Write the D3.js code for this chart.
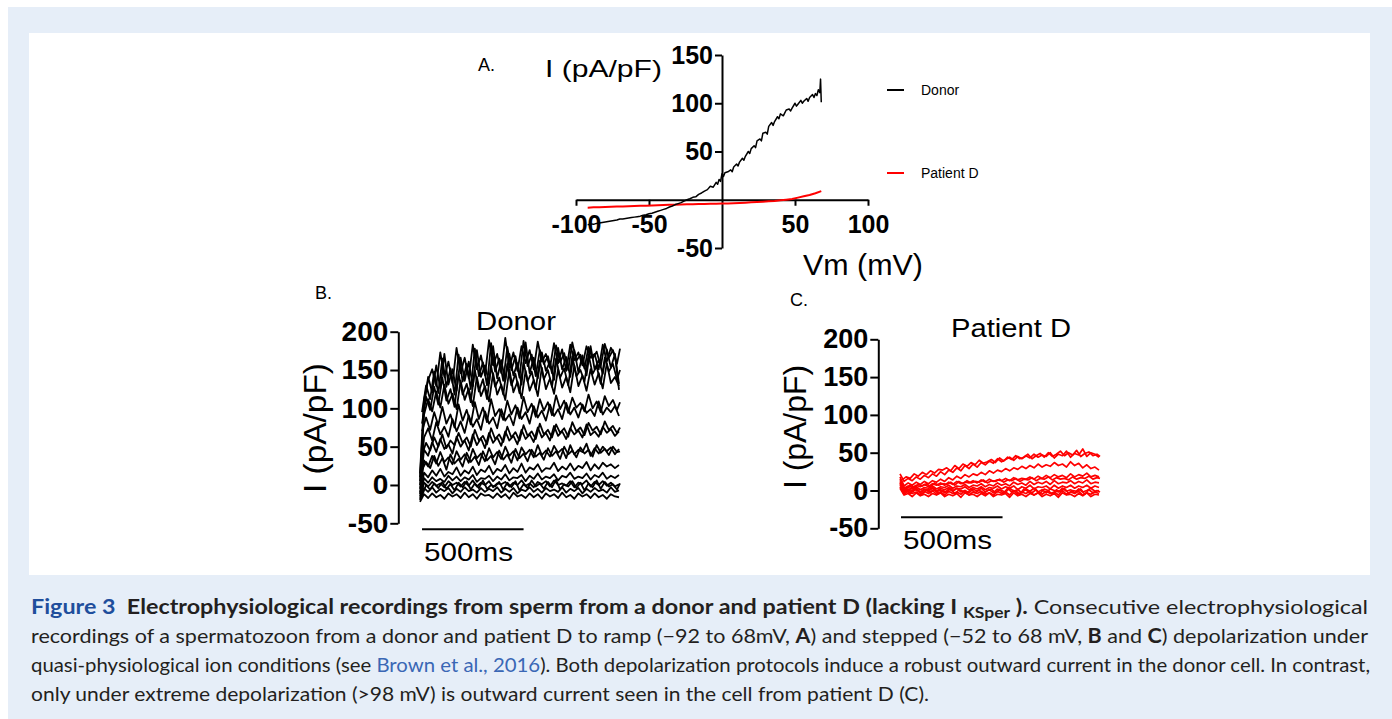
<!DOCTYPE html>
<html><head>
<meta charset="UTF-8">
<title>Figure 3 - ramp and step recordings</title>
<script src="https://d3js.org/d3.v7.min.js"></script>
<style>
  body { margin: 0; background: #fff; }
  svg text { font-family: "Liberation Sans", Arial, sans-serif; fill: #000; }
  .axis path, .axis line { stroke: #000; stroke-width: 2px; }
  .axis text { font-weight: bold; fill: #000; }
  .trace { fill: none; stroke-linejoin: round; }
  .caption text { font-family: Lato, "Open Sans", sans-serif; font-size: 20px; fill: #231f20; white-space: pre; }
</style>
</head>
<body>
<script type="text/javascript">

// ---- data ----

// panel A: ramp, [Vm (mV), I (pA/pF)]
var rampDonor = [
  [-92,-26],[-90,-25],[-88,-25.5],[-86,-24.5],[-84,-24],[-82,-23.5],[-80,-23],[-78,-22.5],[-76,-22],[-74,-21.5],
  [-72,-21],[-70,-20],[-68,-20],[-66,-19.5],[-64,-19],[-62,-18.5],[-60,-18],[-58,-17.5],[-56,-17],[-54,-16],
  [-52,-15.5],[-50,-14.5],[-48,-14],[-46,-13],[-44,-12],[-42,-11],[-40,-10],[-38,-9],[-36,-7.5],[-34,-6.5],
  [-32,-5],[-30,-4],[-28,-3],[-26,-1.5],[-24,0],[-22,1],[-20,2.5],[-18,3],[-16,5.5],[-14,7],
  [-12,9],[-10,10.5],[-8,14],[-6,13],[-4,18],[-3,16],[-2,21],[-1,19],[0,27],[1,24],[2,28],[4,29],[6,31],[7,29],[8,34],
  [10,37],[11,35],[12,39],[14,43],[15,41],[16,45],[18,50],[19,48],[20,53],[22,56],[23,54],[24,61],[26,63],[27,61],
  [28,69],[30,70],[31,68],[32,76],[34,80],[35,77],[36,81],[38,86],[39,84],[40,89],[42,87],[43,90],[44,93],
  [46,94],[47,92],[48,95],[50,100],[51,97],[52,99],[54,103],[55,100],[56,102],[58,105],[59,102],[60,106],
  [62,109],[63,106],[64,110],[65,108],[66,114],[67,111],[67.5,125],[68,101]
];
var rampPatient = [
  [-92,-8.2],[-88,-7.9],[-84,-7.7],[-80,-7.5],[-76,-7.3],[-72,-7.1],[-68,-6.9],[-64,-6.7],[-60,-6.5],[-56,-6.3],
  [-52,-6.1],[-48,-5.9],[-44,-5.7],[-40,-5.5],[-36,-5.3],[-32,-5.1],[-28,-4.9],[-24,-4.7],[-20,-4.6],[-16,-4.5],
  [-12,-4.3],[-8,-4.2],[-4,-4.1],[0,-4],[4,-3.8],[8,-3.6],[12,-3.3],[16,-3],[20,-2.7],[24,-2.4],
  [28,-2],[32,-1.6],[36,-1.2],[40,-0.6],[44,0.1],[48,0.8],[52,2.2],[56,3.6],[60,5],[64,6.8],[68,8.9]
];
var rampXTicks = [-100, -50, 50, 100];
var rampYTicks = [150, 100, 50, -50];

// panels B and C: step protocol, sample times (ms); the second set is sampled in between
var stepTimes = [0,20,40,60,80,100,120,140,160,180,200,220,240,260,280,300,320,340,360,380,
                 400,420,440,460,480,500,520,540,560,580,600,620,640,660,680,700,720,740,760,780,
                 800,820,840,860,880,900,920,940,960,980];
var stepTimesAlt = [10,30,50,70,90,110,130,150,170,190,210,230,250,270,290,310,330,350,370,390,
                    410,430,450,470,490,510,530,550,570,590,610,630,650,670,690,710,730,750,770,790,
                    810,830,850,870,890,910,930,950,970,985];
var stepYTicks = [200, 150, 100, 50, 0, -50];

// donor step traces (pA/pF), on stepTimes
var donorSteps = [
  [-22,-12,-17,-11,-16,-13,-18,-11,-15,-12, -17,-10,-16,-12,-18,-11,-14,-13,-17,-11, -16,-12,-18,-10,-15,-13,-17,-11,-16,-12, -18,-11,-15,-12,-17,-10,-16,-13,-18,-11, -15,-12,-17,-11,-16,-13,-18,-12,-15,-16],
  [-20,-4,-9,-3,-10,-5,-8,-4,-11,-5, -9,-3,-8,-6,-10,-4,-9,-5,-8,-3, -10,-5,-9,-4,-11,-6,-8,-3,-9,-5, -10,-4,-8,-6,-9,-3,-10,-5,-8,-4, -11,-5,-9,-4,-8,-6,-10,-3,-9,-7],
  [-18,3,-2,4,-1,2,-3,5,0,3, -2,4,-1,6,-2,3,0,5,-3,2, 1,4,-2,3,0,6,-1,2,-3,4, 1,5,-2,6,0,2,-1,5,-3,3, 1,6,-2,4,0,5,-1,3,-2,1],
  [-15,9,3,10,5,8,4,12,6,11, 5,10,7,13,4,9,8,12,5,11, 7,14,6,10,9,13,5,12,8,15, 7,11,9,14,6,12,10,16,8,11, 9,15,7,13,10,16,8,12,9,13],
  [-12,16,10,19,12,21,11,17,14,23, 12,19,15,24,13,20,17,25,14,21, 18,26,15,22,17,28,16,23,20,27, 17,22,21,29,18,24,20,28,19,25, 22,30,19,27,21,29,24,27,22,26],
  [-10,32,24,38,28,43,30,36,27,44, 33,40,29,47,35,41,31,48,36,43, 34,50,38,44,32,49,40,46,36,52, 39,45,37,51,42,47,35,52,40,46, 43,54,38,48,41,50,44,49,40,47],
  [-5,46,38,56,43,60,47,53,41,63, 50,58,45,66,52,61,48,68,55,62, 51,70,58,64,53,72,60,66,56,75, 62,68,58,77,64,70,60,74,66,71, 62,79,65,70,63,76,68,73,64,70],
  [0,62,74,58,82,66,76,63,86,70, 83,68,91,76,86,72,96,80,88,74, 99,84,92,78,101,86,95,80,103,88, 97,84,105,90,99,86,107,92,101,88, 105,94,99,90,109,92,101,95,103,90],
  [5,92,112,96,122,101,131,106,119,99, 136,111,126,103,141,116,129,109,146,118, 131,111,151,121,135,113,149,123,137,116, 153,125,139,119,151,127,141,121,156,129, 143,123,151,131,146,126,159,133,141,129],
  [10,102,141,121,156,126,171,131,151,123, 166,136,161,129,176,141,156,133,181,139, 163,136,171,143,159,131,186,146,166,139, 173,149,161,137,179,151,167,141,176,147, 169,143,181,151,163,145,177,153,171,124],
  [15,112,137,151,129,173,141,161,133,179, 146,166,139,183,151,169,143,189,156,171, 146,192,153,173,149,181,159,176,151,187, 161,171,153,185,159,177,149,183,163,173, 156,181,166,171,151,183,161,179,169,132]
];
// donor step traces (pA/pF), on stepTimesAlt
var donorStepsAlt = [
  [-14,0,-6,2,-4,4,-5,1,-7,3, -3,5,-6,2,-4,6,-5,0,-2,4, -6,3,-3,5,-7,1,-4,6,-2,2, -5,4,-3,7,-6,1,-2,5,-4,3, -7,2,-3,6,-5,4,-2,1,-6,2],
  [20,30,22,38,25,35,20,40,28,34, 24,42,30,37,26,44,32,38,27,45, 33,40,29,47,35,41,31,46,37,42, 33,48,38,44,34,50,40,45,36,49, 41,46,37,52,42,47,39,50,43,44],
  [40,55,45,62,50,66,48,58,52,68, 55,62,50,72,58,64,53,74,60,66, 56,76,62,69,58,78,64,70,60,80, 66,72,62,79,68,74,63,82,70,75, 65,81,71,76,66,83,72,77,68,75],
  [70,88,72,95,78,102,80,92,75,105, 84,98,79,108,86,101,82,112,90,99, 85,110,92,104,87,115,95,106,89,112, 97,108,91,117,99,110,94,114,101,107, 96,118,100,109,95,116,103,111,98,108],
  [80,115,98,128,105,140,110,125,102,145, 118,132,108,150,122,138,112,155,128,140, 118,158,130,145,120,160,135,148,125,162, 138,150,128,165,140,152,130,168,142,150, 135,170,145,155,132,166,148,158,138,150],
  [95,130,112,148,120,165,128,152,118,170, 135,158,125,178,142,160,130,185,148,165, 136,180,150,168,140,188,155,170,142,176, 158,168,146,182,160,172,150,186,162,170, 152,180,165,174,155,184,166,176,158,178]
];

// patient D step traces (pA/pF), on stepTimes
var patientSteps = [
  [22,12,16,13,18,15,20,17,22,19, 25,21,27,24,30,26,33,29,35,31, 37,34,39,36,42,38,41,44,40,45, 42,46,43,48,44,47,45,50,43,48, 46,52,44,49,47,55,45,50,48,44],
  [18,6,10,7,11,8,12,9,13,11, 15,12,17,14,19,16,21,18,22,20, 24,21,26,23,27,25,29,26,30,28, 32,29,33,30,35,31,34,32,37,33, 35,31,38,33,36,30,34,29,31,27],
  [15,3,6,4,7,5,8,5,9,7, 10,7,11,8,12,9,11,10,13,10, 14,11,15,12,14,13,16,13,17,14, 16,15,18,15,19,16,20,17,21,18, 20,17,22,18,21,19,23,18,20,18],
  [12,1,4,2,5,1,4,3,6,2, 5,4,7,3,6,5,8,4,7,6, 9,5,8,6,10,7,9,6,11,8, 10,7,12,8,11,9,12,8,13,9, 11,10,13,9,12,10,14,9,11,10],
  [10,-1,2,0,3,-2,2,1,4,-1, 3,1,4,0,3,2,5,1,4,2, 5,1,4,3,6,2,5,3,6,1, 5,3,7,2,5,4,6,2,7,3, 6,4,7,3,6,4,7,3,6,4],
  [8,-3,1,-2,2,-3,1,-1,3,-2, 1,-3,2,-1,3,-2,0,-3,2,-1, 3,-2,1,-3,2,0,-2,3,-1,1, -3,2,-1,3,-2,1,-3,2,0,-2, 3,-1,1,-3,2,-2,0,3,-1,0],
  [5,-5,-1,-4,-2,-6,-1,-4,0,-5, -2,-6,-1,-4,-2,-5,0,-6,-2,-4, -1,-5,-3,-6,-1,-4,-2,-6,0,-5, -2,-4,-1,-6,-3,-5,-1,-4,-2,-6, 0,-5,-2,-4,-1,-6,-3,-5,-2,-4],
  [3,-6,-4,-8,-3,-7,-5,-8,-4,-6, -3,-8,-5,-7,-4,-9,-3,-6,-5,-8, -4,-7,-3,-8,-5,-6,-4,-9,-3,-7, -5,-8,-4,-6,-3,-8,-5,-7,-4,-9, -3,-6,-5,-8,-4,-7,-3,-8,-5,-6]
];
// patient D step traces (pA/pF), on stepTimesAlt
var patientStepsAlt = [
  [14,18,16,22,19,24,21,26,23,28, 27,30,26,33,29,35,32,37,34,40, 36,38,41,37,43,39,44,41,46,42, 44,48,42,46,49,44,50,45,48,52, 46,50,47,53,45,49,51,46,48,45],
  [6,3,7,4,8,6,9,5,10,7, 9,8,11,7,12,9,13,10,12,11, 14,10,13,12,15,11,14,13,16,12, 15,14,17,13,16,15,18,14,17,15, 16,14,18,15,17,16,19,15,17,16],
  [-2,1,-4,2,-1,-5,1,-3,2,-4, 0,-2,3,-5,1,-1,-4,2,-3,1, -5,0,2,-3,1,-4,3,-2,0,-5, 2,-1,-3,1,-4,2,0,-5,1,-2, 3,-4,0,-1,2,-5,1,-3,0,-2]
];

var plainNum = function (d) { return String(d); };

// ---- page ----
var svg = d3.select("body").append("svg")
    .attr("width", 1392)
    .attr("height", 719);

// light blue frame + white figure area
svg.append("rect").attr("x", 8).attr("y", 7).attr("width", 1384).attr("height", 712).attr("fill", "#e6eef8");
svg.append("rect").attr("x", 29).attr("y", 33).attr("width", 1341).attr("height", 542).attr("fill", "#fff");

// ================= panel A : ramp I-V =================
var xA = d3.scaleLinear().domain([-100, 100]).range([576, 868]);
var yA = d3.scaleLinear().domain([-50, 150]).range([248, 55]);

var gA = svg.append("g");

gA.append("g").attr("class", "axis")
    .attr("transform", "translate(0," + yA(0) + ")")
    .call(d3.axisBottom(xA).tickValues(rampXTicks).tickSize(6).tickSizeOuter(0).tickPadding(9).tickFormat(plainNum))
    .call(function (g) { g.selectAll("text").attr("font-size", 25); });

gA.append("g").attr("class", "axis")
    .attr("transform", "translate(" + xA(0) + ",0)")
    .call(d3.axisLeft(yA).tickValues(rampYTicks).tickSize(7).tickSizeOuter(0).tickPadding(2).tickFormat(plainNum))
    .call(function (g) { g.selectAll("text").attr("font-size", 25); });

var lineA = d3.line().x(function (d) { return xA(d[0]); }).y(function (d) { return yA(d[1]); });

gA.append("path").datum(rampPatient).attr("class", "trace")
    .attr("stroke", "#ff0000").attr("stroke-width", 2).attr("d", lineA);
gA.append("path").datum(rampDonor).attr("class", "trace")
    .attr("stroke", "#000").attr("stroke-width", 1.5).attr("d", lineA);

gA.append("text").attr("x", 478).attr("y", 71).attr("font-size", 18).text("A.");
gA.append("text").attr("x", 545).attr("y", 77).attr("font-size", 24)
    .attr("textLength", 117).attr("lengthAdjust", "spacingAndGlyphs").text("I (pA/pF)");
gA.append("text").attr("x", 803).attr("y", 275).attr("font-size", 30)
    .attr("textLength", 120).attr("lengthAdjust", "spacingAndGlyphs").text("Vm (mV)");

// legend
var legendA = [["Donor", "#000", 90], ["Patient D", "#ff0000", 173]];
legendA.forEach(function (l) {
  gA.append("line").attr("x1", 887).attr("x2", 904).attr("y1", l[2]).attr("y2", l[2])
      .attr("stroke", l[1]).attr("stroke-width", 2);
  gA.append("text").attr("x", 921).attr("y", l[2] + 5).attr("font-size", 14).text(l[0]);
});

// ================= panels B and C : steps =================
function stepPanel(cfg) {
  var x = d3.scaleLinear().domain([0, 980]).range(cfg.xRange);
  var y = d3.scaleLinear().domain([-50, 200]).range(cfg.yRange);
  var g = svg.append("g");

  g.append("g").attr("class", "axis")
      .attr("transform", "translate(" + cfg.axisX + ",0)")
      .call(d3.axisLeft(y).tickValues(stepYTicks).tickSize(8).tickSizeOuter(0).tickPadding(2).tickFormat(plainNum))
      .call(function (a) { a.selectAll("text").attr("font-size", cfg.tickFont); });

  var line = d3.line().x(function (d) { return x(d[0]); }).y(function (d) { return y(d[1]); });

  cfg.traces.forEach(function (tr) {
    g.append("path").datum(d3.zip(stepTimes, tr)).attr("class", "trace")
        .attr("stroke", cfg.color).attr("stroke-width", cfg.width).attr("d", line);
  });
  cfg.tracesAlt.forEach(function (tr) {
    g.append("path").datum(d3.zip(stepTimesAlt, tr)).attr("class", "trace")
        .attr("stroke", cfg.color).attr("stroke-width", cfg.width).attr("d", line);
  });

  // 500 ms scale bar
  g.append("line")
      .attr("x1", x(cfg.barStart)).attr("x2", x(cfg.barStart + 500))
      .attr("y1", cfg.barY).attr("y2", cfg.barY)
      .attr("stroke", "#000").attr("stroke-width", 2);
  g.append("text").attr("x", x(cfg.barStart) + 2).attr("y", cfg.barY + 32).attr("font-size", 26)
      .attr("textLength", 89).attr("lengthAdjust", "spacingAndGlyphs").text("500ms");

  g.append("text").attr("x", cfg.letterPos[0]).attr("y", cfg.letterPos[1]).attr("font-size", 18).text(cfg.letter);
  g.append("text").attr("x", cfg.titlePos[0]).attr("y", cfg.titlePos[1]).attr("font-size", 26)
      .attr("text-anchor", "middle").attr("textLength", cfg.titleLen).attr("lengthAdjust", "spacingAndGlyphs")
      .text(cfg.title);
  g.append("text")
      .attr("transform", "translate(" + cfg.yLabelPos[0] + "," + cfg.yLabelPos[1] + ") rotate(-90)")
      .attr("text-anchor", "middle").attr("dy", "0.35em").attr("font-size", 32)
      .attr("textLength", cfg.yLabelLen).attr("lengthAdjust", "spacingAndGlyphs")
      .text("I (pA/pF)");
}

stepPanel({
  traces: donorSteps, tracesAlt: donorStepsAlt, color: "#000", width: 1.8,
  xRange: [420, 619], yRange: [523.3, 331.7], axisX: 398.3, tickFont: 28,
  barStart: 10, barY: 529.3,
  letter: "B.", letterPos: [315, 299],
  title: "Donor", titlePos: [516, 330], titleLen: 80,
  yLabelPos: [315, 428], yLabelLen: 130
});

stepPanel({
  traces: patientSteps, tracesAlt: patientStepsAlt, color: "#ff0000", width: 1.7,
  xRange: [900, 1099], yRange: [528.3, 339.3], axisX: 878.3, tickFont: 27,
  barStart: 5, barY: 517.3,
  letter: "C.", letterPos: [790, 306],
  title: "Patient D", titlePos: [1011, 337], titleLen: 120,
  yLabelPos: [795, 427], yLabelLen: 124
});

// ================= caption =================
var cap = svg.append("g").attr("class", "caption");

var l1 = cap.append("text").attr("x", 31).attr("y", 614)
    .attr("textLength", 1337).attr("lengthAdjust", "spacingAndGlyphs");
l1.append("tspan").attr("font-weight", "bold").attr("fill", "#1f4e9c").text("Figure 3");
l1.append("tspan").attr("font-weight", "bold").text("  Electrophysiological recordings from sperm from a donor and patient D (lacking I ");
l1.append("tspan").attr("font-weight", "bold").attr("font-size", 15).attr("dy", 4).text("KSper");
l1.append("tspan").attr("font-weight", "bold").attr("dy", -4).text(" ).");
l1.append("tspan").text(" Consecutive electrophysiological");

var l2 = cap.append("text").attr("x", 31).attr("y", 643)
    .attr("textLength", 1337).attr("lengthAdjust", "spacingAndGlyphs");
l2.append("tspan").text("recordings of a spermatozoon from a donor and patient D to ramp (\u221292 to 68mV, ");
l2.append("tspan").attr("font-weight", "bold").text("A");
l2.append("tspan").text(") and stepped (\u221252 to 68 mV, ");
l2.append("tspan").attr("font-weight", "bold").text("B");
l2.append("tspan").text(" and ");
l2.append("tspan").attr("font-weight", "bold").text("C");
l2.append("tspan").text(") depolarization under");

var l3 = cap.append("text").attr("x", 31).attr("y", 672)
    .attr("textLength", 1339).attr("lengthAdjust", "spacingAndGlyphs");
l3.append("tspan").text("quasi-physiological ion conditions (see ");
l3.append("tspan").attr("fill", "#3a67b5").text("Brown et al., 2016");
l3.append("tspan").text("). Both depolarization protocols induce a robust outward current in the donor cell. In contrast,");

cap.append("text").attr("x", 31).attr("y", 701)
    .attr("textLength", 898).attr("lengthAdjust", "spacingAndGlyphs")
    .text("only under extreme depolarization (>98 mV) is outward current seen in the cell from patient D (C).");

</script>
</body>
</html>
